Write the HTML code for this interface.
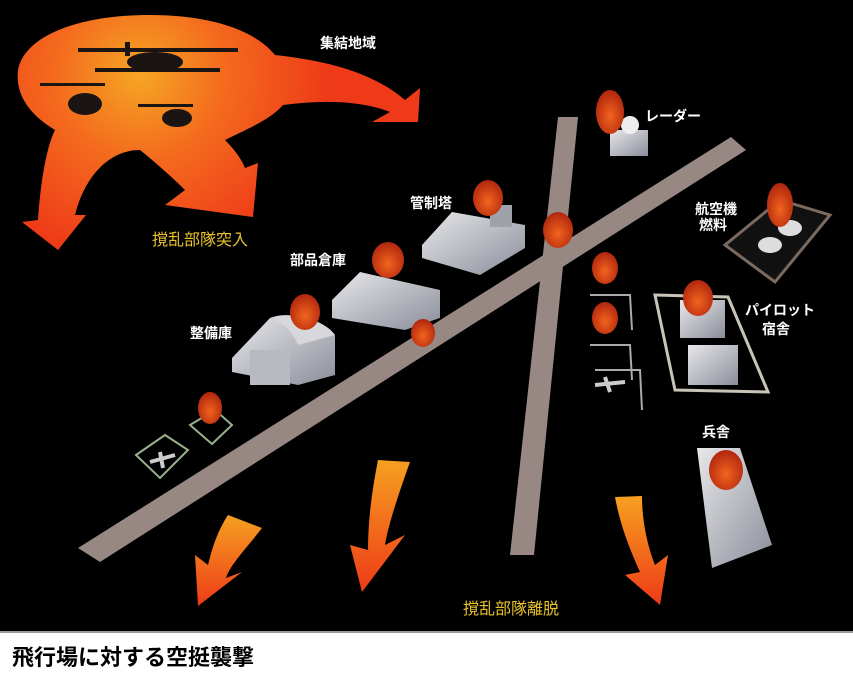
<!DOCTYPE html>
<html><head><meta charset="utf-8"><style>
html,body{margin:0;padding:0;background:#000;}
svg{display:block}
.w{fill:#fff;font-family:"Liberation Sans","Noto Sans CJK JP",sans-serif;font-size:14px;font-weight:bold}
.y{fill:#e9c22a;font-family:"Liberation Sans","Noto Sans CJK JP",sans-serif;font-size:16px}
</style></head><body>
<svg width="853" height="673" viewBox="0 0 853 673" xmlns="http://www.w3.org/2000/svg">
<defs>
<radialGradient id="og" cx="140" cy="75" r="190" gradientUnits="userSpaceOnUse">
<stop offset="0" stop-color="#f5a623"/><stop offset="0.45" stop-color="#f46a1e"/><stop offset="1" stop-color="#ee3a18"/></radialGradient>
<linearGradient id="ag" x1="0" y1="0" x2="0" y2="1">
<stop offset="0" stop-color="#f6a020"/><stop offset="1" stop-color="#ee3a18"/></linearGradient>
<linearGradient id="bg" x1="0" y1="0" x2="1" y2="1">
<stop offset="0" stop-color="#e8e8ea"/><stop offset="1" stop-color="#8a8e9a"/></linearGradient>
<radialGradient id="fg" cx="0.5" cy="0.6" r="0.6">
<stop offset="0" stop-color="#f2641e"/><stop offset="1" stop-color="#b0260e"/></radialGradient>
</defs>
<rect width="853" height="673" fill="#000"/>
<polygon points="78,548 100,562 746,150 731,137" fill="#978884"/>
<polygon points="558,117 578,117 534,555 510,555" fill="#978884"/>
<!-- top blob -->
<path d="M18,70 C25,35 80,15 150,15 C210,15 255,30 275,55 C320,60 370,70 405,100 L420,88 L418,122 L372,122 L390,112 C360,100 320,100 283,105 C270,120 245,130 225,140 C235,150 242,160 245,168 L258,163 L253,217 L165,205 L185,190 C170,175 150,158 140,150 C110,150 85,175 75,215 L86,215 L58,250 L22,222 L38,220 C40,190 45,150 55,130 C30,115 15,95 18,70 Z" fill="url(#og)"/>
<g fill="#1a1412">
<rect x="78" y="48" width="160" height="4"/>
<rect x="95" y="68" width="125" height="4"/>
<ellipse cx="155" cy="62" rx="28" ry="10"/>
<rect x="125" y="42" width="5" height="14"/>
<rect x="40" y="83" width="65" height="3"/>
<ellipse cx="85" cy="104" rx="17" ry="11"/>
<rect x="138" y="104" width="55" height="3"/>
<ellipse cx="177" cy="118" rx="15" ry="9"/>
</g>
<path d="M228,515 L262,528 C245,550 230,565 226,578 L242,572 L198,606 L195,555 L208,565 C212,548 218,530 228,515 Z" fill="url(#ag)"/>
<path d="M378,460 L410,462 C400,490 388,525 385,545 L405,535 L362,592 L350,545 L368,550 C368,520 372,490 378,460 Z" fill="url(#ag)"/>
<path d="M615,497 L642,496 C642,520 647,545 655,565 L668,555 L660,605 L625,575 L640,572 C630,550 620,525 615,497 Z" fill="url(#ag)"/>
<g>
<polygon points="232,358 270,318 335,335 335,375 298,385 232,372" fill="url(#bg)"/>
<path d="M270,318 C290,310 325,320 335,335 L298,345 C292,330 280,320 270,318Z" fill="#d8d8dc"/>
<rect x="250" y="350" width="40" height="35" fill="#b8bac2"/>
<polygon points="332,300 360,272 440,290 440,318 405,330 332,318" fill="url(#bg)"/>
<polygon points="422,245 452,212 525,225 525,248 480,275 422,258" fill="url(#bg)"/>
<rect x="490" y="205" width="22" height="22" fill="#a0a2aa"/>
<rect x="610" y="130" width="38" height="26" fill="url(#bg)"/>
<circle cx="630" cy="125" r="9" fill="#eee"/>
<polygon points="725,245 780,200 830,215 775,282" fill="#111" stroke="#7a6a60" stroke-width="3"/>
<ellipse cx="770" cy="245" rx="12" ry="8" fill="#ddd"/>
<ellipse cx="790" cy="228" rx="12" ry="8" fill="#ddd"/>
<polygon points="655,295 728,297 768,392 675,390" fill="none" stroke="#c8c4b8" stroke-width="3"/>
<rect x="680" y="300" width="45" height="38" fill="url(#bg)"/>
<rect x="688" y="345" width="50" height="40" fill="url(#bg)"/>
<polygon points="697,448 740,448 772,545 712,568" fill="url(#bg)"/>
<polyline points="590,295 630,295 632,330" fill="none" stroke="#aaa" stroke-width="2"/>
<polyline points="590,345 630,345 632,380" fill="none" stroke="#aaa" stroke-width="2"/>
<polyline points="595,370 640,370 642,410" fill="none" stroke="#aaa" stroke-width="2"/>
<polygon points="136,455 165,435 188,450 160,478" fill="none" stroke="#9ab08a" stroke-width="2"/>
<polygon points="190,425 215,410 232,425 212,444" fill="none" stroke="#9ab08a" stroke-width="2"/>
<path d="M595,385 L625,382 M605,377 L610,392" stroke="#ccc" stroke-width="4"/>
<path d="M150,462 L175,455 M160,452 L163,468" stroke="#ccc" stroke-width="4"/>
</g>
<g fill="url(#fg)">
<ellipse cx="610" cy="112" rx="14" ry="22"/>
<ellipse cx="488" cy="198" rx="15" ry="18"/>
<ellipse cx="558" cy="230" rx="15" ry="18"/>
<ellipse cx="388" cy="260" rx="16" ry="18"/>
<ellipse cx="305" cy="312" rx="15" ry="18"/>
<ellipse cx="423" cy="333" rx="12" ry="14"/>
<ellipse cx="210" cy="408" rx="12" ry="16"/>
<ellipse cx="605" cy="268" rx="13" ry="16"/>
<ellipse cx="605" cy="318" rx="13" ry="16"/>
<ellipse cx="698" cy="298" rx="15" ry="18"/>
<ellipse cx="780" cy="205" rx="13" ry="22"/>
<ellipse cx="726" cy="470" rx="17" ry="20"/>
</g>
<text class="w" x="320" y="48">集結地域</text>
<text class="w" x="645" y="121">レーダー</text>
<text class="w" x="410" y="208">管制塔</text>
<text class="w" x="695" y="214">航空機</text>
<text class="w" x="699" y="230">燃料</text>
<text class="w" x="290" y="265">部品倉庫</text>
<text class="w" x="745" y="315">パイロット</text>
<text class="w" x="762" y="334">宿舎</text>
<text class="w" x="190" y="338">整備庫</text>
<text class="w" x="702" y="437">兵舎</text>
<text class="y" x="152" y="245">撹乱部隊突入</text>
<text class="y" x="463" y="614">撹乱部隊離脱</text>
<rect x="0" y="631" width="853" height="42" fill="#fff"/>
<rect x="0" y="631" width="853" height="2" fill="#999"/>
<text x="12" y="665" style="font-family:'Liberation Sans','Noto Sans CJK JP',sans-serif;font-size:22px;font-weight:bold" fill="#000">飛行場に対する空挺襲撃</text>
</svg>
</body></html>
